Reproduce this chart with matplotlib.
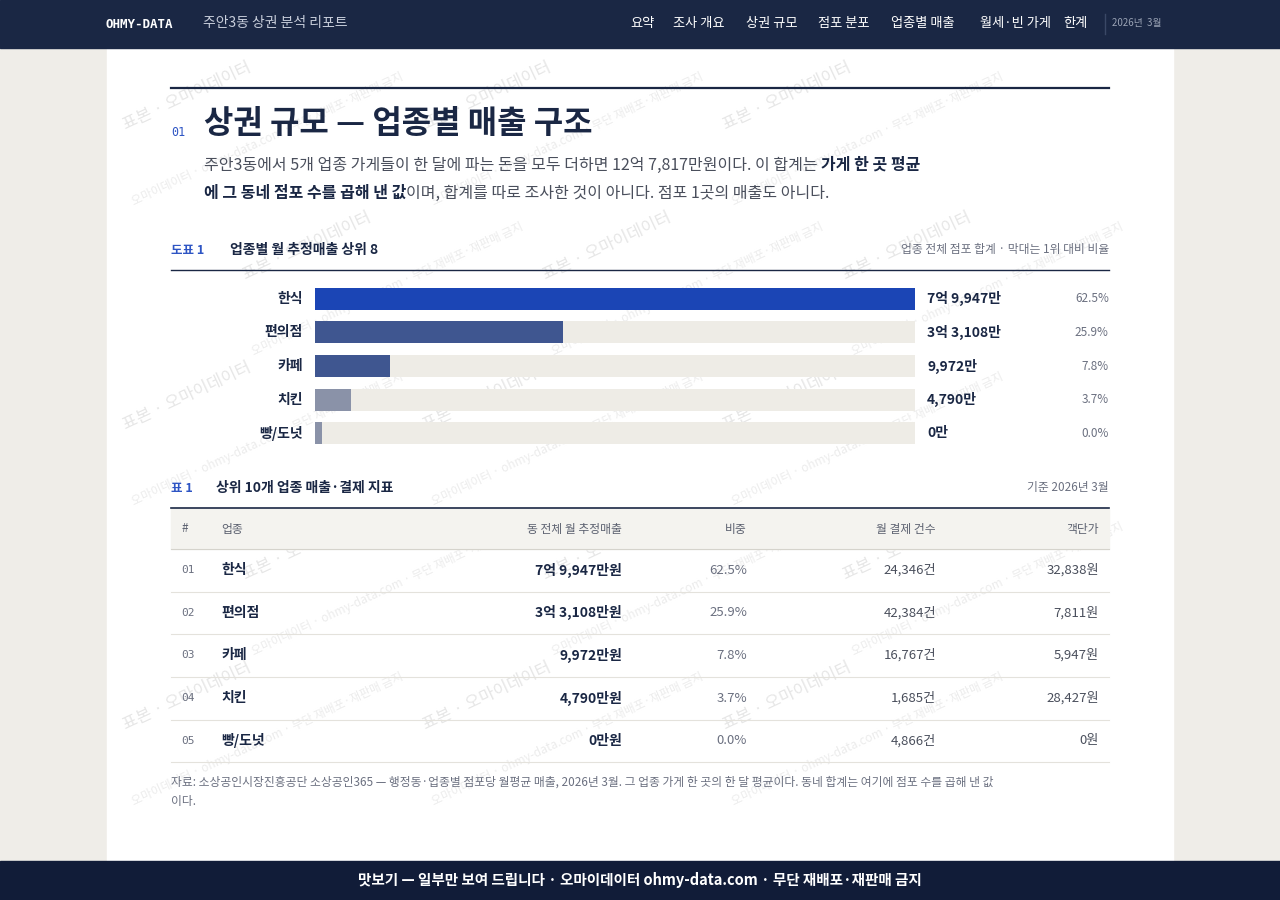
import matplotlib
matplotlib.use('Agg')
import matplotlib.pyplot as plt
from matplotlib.patches import Rectangle

plt.rcParams['font.family'] = ['Noto Sans CJK KR', 'DejaVu Sans']

# data
cats = ['한식', '편의점', '카페', '치킨', '빵/도넛']
sales_man = [79947, 33108, 9972, 4790, 0]
sales_lbl = ['7억 9,947만', '3억 3,108만', '9,972만', '4,790만', '0만']
shares = [62.5, 25.9, 7.8, 3.7, 0.0]
counts = [24346, 42384, 16767, 1685, 4866]
unit_price = [32838, 7811, 5947, 28427, 0]
bar_colors = ['#1b45b5', '#3f5690', '#3f5690', '#8a92a8', '#8a92a8']
nav_items = ['요약', '조사 개요', '상권 규모', '점포 분포', '업종별 매출', '월세·빈 가게', '한계']
nav_x = [642, 699, 772, 844, 923, 1015, 1075]

W, H = 1280, 900
NAVY = '#1a2744'
fig = plt.figure(figsize=(12.8, 9), dpi=100)
fig.patch.set_facecolor('#efede8')
ax = fig.add_axes([0, 0, 1, 1])
ax.set_xlim(0, W); ax.set_ylim(H, 0); ax.axis('off')

# page card
ax.add_patch(Rectangle((107, 48), 1066, 830, color='white', zorder=0))
# header
ax.add_patch(Rectangle((0, 0), W, 48, color=NAVY, zorder=1))
ax.text(105, 24, 'OHMY-DATA', color='white', fontsize=9, weight='bold', family='DejaVu Sans Mono', va='center', zorder=2)
ax.text(203, 23, '주안3동 상권 분석 리포트', color='#c8cedb', fontsize=10, va='center', zorder=2)
for t, x in zip(nav_items, nav_x):
    ax.text(x, 23, t, color='white', fontsize=9.5, va='center', ha='center', zorder=2)
ax.plot([1105, 1105], [14, 34], color='#3a4866', lw=1, zorder=2)
ax.text(1112, 23, '2026년  3월', color='#9aa3b5', fontsize=7, va='center', zorder=2)
# footer
ax.add_patch(Rectangle((0, 861), W, 39, color='#111c38', zorder=5))
ax.text(640, 880, '맛보기 — 일부만 보여 드립니다 · 오마이데이터 ohmy-data.com · 무단 재배포·재판매 금지',
        color='white', fontsize=10.5, weight='bold', ha='center', va='center', zorder=6)

# watermarks (kept inside the card)
for r, yy in enumerate(range(130, 840, 150)):
    for xx in range(120, 1000, 300):
        x0 = xx + (r % 2) * 120
        ax.text(x0, yy, '표본 · 오마이데이터', rotation=25, color='#d6d6d6',
                fontsize=12, alpha=0.6, zorder=0.5)
        ax.text(x0 + 10, yy + 75, '오마이데이터 · ohmy-data.com · 무단 재배포·재판매 금지',
                rotation=25, color='#dcdcdc', fontsize=8.5, alpha=0.55, zorder=0.5)

# section header
ax.plot([171, 1109], [88, 88], color=NAVY, lw=1.6)
ax.text(171, 132, '01', color='#2e55c4', fontsize=8.5, family='DejaVu Sans Mono', va='center')
ax.text(204, 124, '상권 규모 — 업종별 매출 구조', color=NAVY, fontsize=23, weight='bold', va='center')
t1 = ax.text(204, 165, '주안3동에서 5개 업종 가게들이 한 달에 파는 돈을 모두 더하면 12억 7,817만원이다. 이 합계는 ',
             color='#4a4f5c', fontsize=11.5, va='center')
ax.annotate('가게 한 곳 평균', xy=(1, 0.5), xycoords=t1, color=NAVY, fontsize=11.5, weight='bold', va='center')
t2 = ax.text(204, 193, '에 그 동네 점포 수를 곱해 낸 값', color=NAVY, fontsize=11.5, weight='bold', va='center')
ax.annotate('이며, 합계를 따로 조사한 것이 아니다. 점포 1곳의 매출도 아니다.', xy=(1, 0.5), xycoords=t2,
            color='#4a4f5c', fontsize=11.5, va='center')

# figure 1 title
ax.text(171, 250, '도표 1', color='#2e55c4', fontsize=9, weight='bold', va='center')
ax.text(230, 250, '업종별 월 추정매출 상위 8', color=NAVY, fontsize=10, weight='bold', va='center')
ax.text(1109, 250, '업종 전체 점포 합계 · 막대는 1위 대비 비율', color='#6b7080', fontsize=8.5, ha='right', va='center')
ax.plot([171, 1109], [270, 270], color=NAVY, lw=1)

# bar chart axes (315..915 px, 282..450 px)
bax = fig.add_axes([315 / W, 1 - 450 / H, 600 / W, 168 / H])
bax.set_xlim(0, sales_man[0]); bax.set_ylim(len(cats) - 0.5, -0.5); bax.axis('off')
ypos = list(range(len(cats)))
bax.barh(ypos, [sales_man[0]] * len(cats), height=0.66, color='#eeece6')
minw = sales_man[0] * 0.012
bax.barh(ypos, [max(v, minw) for v in sales_man], height=0.66, color=bar_colors)
for i, c in enumerate(cats):
    bax.text(-sales_man[0] * 0.02, i, c, ha='right', va='center', fontsize=10, weight='bold', color=NAVY)
    bax.text(sales_man[0] * 1.02, i, sales_lbl[i], ha='left', va='center', fontsize=10, weight='bold', color=NAVY)
    bax.text(sales_man[0] * 1.323, i, f'{shares[i]:.1f}%', ha='right', va='center', fontsize=8.5, color='#6b7080')

# table
ax.text(171, 488, '표 1', color='#2e55c4', fontsize=9, weight='bold', va='center')
ax.text(216, 488, '상위 10개 업종 매출·결제 지표', color=NAVY, fontsize=10, weight='bold', va='center')
ax.text(1109, 488, '기준 2026년 3월', color='#6b7080', fontsize=8.5, ha='right', va='center')
ax.plot([171, 1109], [508, 508], color=NAVY, lw=1.2)
ax.add_patch(Rectangle((171, 509), 938, 40, color='#f4f3ef'))
ax.plot([171, 1109], [549, 549], color='#d5d3cc', lw=0.8)
hy = 529
hcol = '#5c6170'
ax.text(182, hy, '#', fontsize=8.5, color=hcol, va='center')
ax.text(221, hy, '업종', fontsize=8.5, color=hcol, va='center')
ax.text(622, hy, '동 전체 월 추정매출', fontsize=8.5, color=hcol, va='center', ha='right')
ax.text(747, hy, '비중', fontsize=8.5, color=hcol, va='center', ha='right')
ax.text(936, hy, '월 결제 건수', fontsize=8.5, color=hcol, va='center', ha='right')
ax.text(1099, hy, '객단가', fontsize=8.5, color=hcol, va='center', ha='right')
for i in range(len(cats)):
    y = 570 + i * 42.7
    ax.text(181, y, f'{i + 1:02d}', fontsize=8, color='#6b7080', family='DejaVu Sans Mono', va='center')
    ax.text(221, y, cats[i], fontsize=10, weight='bold', color=NAVY, va='center')
    ax.text(622, y, sales_lbl[i] + '원', fontsize=10, weight='bold', color=NAVY, va='center', ha='right')
    ax.text(747, y, f'{shares[i]:.1f}%', fontsize=9.5, color='#6b7080', va='center', ha='right')
    ax.text(936, y, f'{counts[i]:,}건', fontsize=9.5, color='#4a4f5c', va='center', ha='right')
    ax.text(1099, y, f'{unit_price[i]:,}원', fontsize=9.5, color='#4a4f5c', va='center', ha='right')
    ax.plot([171, 1109], [y + 21.5, y + 21.5], color='#e4e2dc', lw=0.8)
ax.text(171, 782, '자료: 소상공인시장진흥공단 소상공인365 — 행정동·업종별 점포당 월평균 매출, 2026년 3월. 그 업종 가게 한 곳의 한 달 평균이다. 동네 합계는 여기에 점포 수를 곱해 낸 값',
        fontsize=8.5, color='#6b7080', va='center')
ax.text(171, 802, '이다.', fontsize=8.5, color='#6b7080', va='center')

fig.savefig('out.png', dpi=100, facecolor=fig.get_facecolor())
